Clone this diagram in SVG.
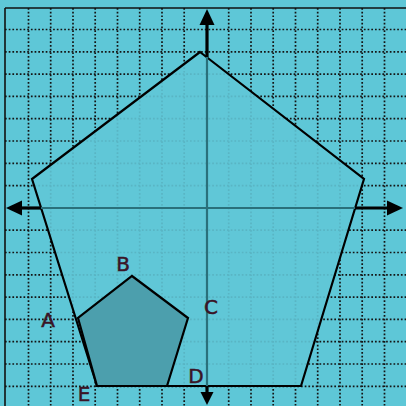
<svg xmlns="http://www.w3.org/2000/svg" width="406" height="406" viewBox="0 0 406 406">
<style>
.grid line{stroke:#141414;stroke-width:1.7;stroke-dasharray:1.7 2}
.axisIn{stroke:#2a707b;stroke-width:2.2}
.axisOut{stroke:#000;stroke-width:3.2}
.head{fill:#000}
.poly{stroke:#000;stroke-width:2.2;stroke-linejoin:miter}
.lbl{font-family:"DejaVu Sans","Liberation Sans",sans-serif;font-size:20px;fill:#3a1426;stroke:#3a1426;stroke-width:0.5;text-anchor:middle}
</style>
<rect x="0" y="0" width="406" height="406" fill="#5ec7d7"/>
<g class="grid">
<line x1="28.5" y1="8" x2="28.5" y2="406"/>
<line x1="50.7" y1="8" x2="50.7" y2="406"/>
<line x1="73" y1="8" x2="73" y2="406"/>
<line x1="95.2" y1="8" x2="95.2" y2="406"/>
<line x1="117.5" y1="8" x2="117.5" y2="406"/>
<line x1="139.7" y1="8" x2="139.7" y2="406"/>
<line x1="162" y1="8" x2="162" y2="406"/>
<line x1="184.2" y1="8" x2="184.2" y2="406"/>
<line x1="228.7" y1="8" x2="228.7" y2="406"/>
<line x1="251" y1="8" x2="251" y2="406"/>
<line x1="273.2" y1="8" x2="273.2" y2="406"/>
<line x1="295.5" y1="8" x2="295.5" y2="406"/>
<line x1="317.7" y1="8" x2="317.7" y2="406"/>
<line x1="340" y1="8" x2="340" y2="406"/>
<line x1="362.2" y1="8" x2="362.2" y2="406"/>
<line x1="384.5" y1="8" x2="384.5" y2="406"/>
<line x1="5" y1="29.5" x2="406" y2="29.5"/>
<line x1="5" y1="51.8" x2="406" y2="51.8"/>
<line x1="5" y1="74.1" x2="406" y2="74.1"/>
<line x1="5" y1="96.4" x2="406" y2="96.4"/>
<line x1="5" y1="118.7" x2="406" y2="118.7"/>
<line x1="5" y1="141" x2="406" y2="141"/>
<line x1="5" y1="163.3" x2="406" y2="163.3"/>
<line x1="5" y1="185.6" x2="406" y2="185.6"/>
<line x1="5" y1="230.2" x2="406" y2="230.2"/>
<line x1="5" y1="252.5" x2="406" y2="252.5"/>
<line x1="5" y1="274.8" x2="406" y2="274.8"/>
<line x1="5" y1="297.1" x2="406" y2="297.1"/>
<line x1="5" y1="319.4" x2="406" y2="319.4"/>
<line x1="5" y1="341.7" x2="406" y2="341.7"/>
<line x1="5" y1="364" x2="406" y2="364"/>
<line x1="5" y1="386.3" x2="406" y2="386.3"/>
</g>
<g id="border" stroke="#111" stroke-width="1.6">
<line x1="5" y1="8" x2="5" y2="406"/>
<line x1="5" y1="8" x2="406" y2="8"/>
</g>
<g id="large-pentagon">
<polygon class="poly" points="200,52 364,179 301,386 97,386 32,179" fill="#61c7d7" fill-opacity="0.9"/>
</g>
<g id="connectors">
<line class="axisIn" x1="41" y1="208" x2="355" y2="208"/>
<line class="axisIn" x1="207" y1="57" x2="207" y2="386"/>
<line class="axisOut" x1="20" y1="208" x2="41" y2="208"/>
<line class="axisOut" x1="355" y1="208" x2="390" y2="208"/>
<line class="axisOut" x1="207" y1="22" x2="207" y2="57"/>
<line class="axisOut" x1="207" y1="386" x2="207" y2="395"/>
<polygon class="head" points="6,208 22,200.5 22,215.5"/>
<polygon class="head" points="403,208 387,200.5 387,215.5"/>
<polygon class="head" points="207,9 199.5,25 214.5,25"/>
<polygon class="head" points="207,405 200.5,392 213.5,392"/>
</g>
<g id="small-pentagon">
<polygon class="poly" points="132,276 188,318 167,386 97,386 78,318" fill="#4c9fad"/>
</g>
<g id="labels">
<text class="lbl" x="123" y="271">B</text>
<text class="lbl" x="211" y="314">C</text>
<text class="lbl" x="196" y="383">D</text>
<text class="lbl" x="48" y="327">A</text>
<text class="lbl" x="84" y="401" font-size="17">E</text>
</g>
</svg>
